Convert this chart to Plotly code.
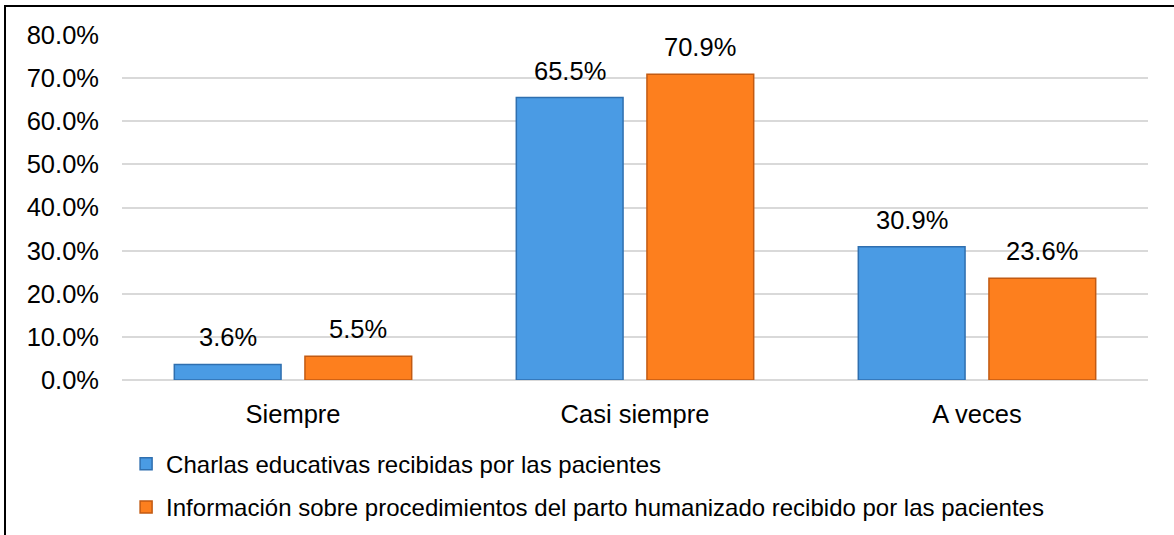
import plotly.graph_objects as go

categories = ["Siempre", "Casi siempre", "A veces"]
series_names = [
    "Charlas educativas recibidas por las pacientes",
    "Información sobre procedimientos del parto humanizado recibido por las pacientes",
]
charlas = [3.6, 65.5, 30.9]
informacion = [5.5, 70.9, 23.6]
y_ticks = [0, 10, 20, 30, 40, 50, 60, 70, 80]
y_tick_labels = [f"{v:.1f}%" for v in y_ticks]

W, H = 1174, 535
ML, MR, MT, MB = 122, 26, 35, 155
PW, PH = W - ML - MR, H - MT - MB

FONT = "Liberation Sans, Arial, sans-serif"
fills = ["#4a9be4", "#fd7f1e"]
edges = ["#2f6faf", "#c25a12"]

fig = go.Figure()
for i, (name, vals) in enumerate([(series_names[0], charlas), (series_names[1], informacion)]):
    fig.add_trace(go.Bar(
        x=categories, y=vals, name=name,
        marker=dict(color=fills[i], line=dict(color=edges[i], width=1.5)),
        legendgroup=f"g{i}",
    ))

# data labels
slot_px = PW / 3 * (1 - 0.236) / 2
for i, vals in enumerate([charlas, informacion]):
    shift = (i - 0.5) * slot_px
    for c, v in zip(categories, vals):
        fig.add_annotation(x=c, y=v, text=f"{v:.1f}%", showarrow=False,
                           xref="x", yref="y", yanchor="bottom",
                           xshift=shift, yshift=11,
                           font=dict(family=FONT, size=25.5, color="#000000"))

# outer chart border
fig.add_shape(type="rect", xref="paper", yref="paper",
              x0=(5 - ML) / PW, x1=(W + 10 - ML) / PW,
              y0=(MT + PH - (H + 10)) / PH, y1=(MT + PH - 6) / PH,
              line=dict(color="#000000", width=2), fillcolor="rgba(0,0,0,0)", layer="above")

fig.update_layout(
    width=W, height=H,
    margin=dict(l=ML, r=MR, t=MT, b=MB, autoexpand=False),
    paper_bgcolor="#ffffff", plot_bgcolor="#ffffff",
    barmode="group", bargap=0.236, bargroupgap=0.183,
    font=dict(family=FONT, size=25, color="#000000"),
    showlegend=True,
    legend=dict(orientation="v", x=0.004, xanchor="left", y=-0.179, yanchor="top",
                font=dict(family=FONT, size=24, color="#000000"),
                traceorder="grouped", tracegroupgap=9, itemwidth=30,
                bgcolor="rgba(0,0,0,0)"),
    xaxis=dict(showgrid=False, showline=False, ticks="", ticklabelstandoff=16,
               tickfont=dict(family=FONT, size=25.5, color="#000000")),
    yaxis=dict(range=[0, 80], tickvals=y_ticks, ticktext=y_tick_labels,
               showgrid=True, gridcolor="#d9d9d9", gridwidth=1.5,
               zeroline=True, zerolinecolor="#d9d9d9", zerolinewidth=1.5,
               showline=False, ticks="", ticklabelstandoff=22,
               tickfont=dict(family=FONT, size=25.5, color="#000000")),
)

fig.write_html("out.html")
